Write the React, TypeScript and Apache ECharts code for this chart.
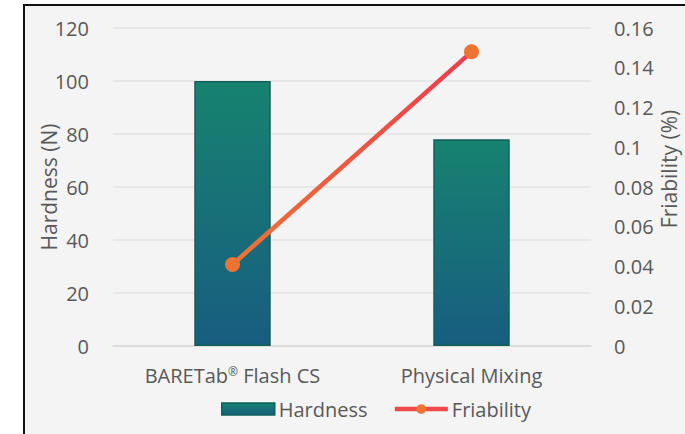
import React, { useEffect, useRef } from "react";
import * as echarts from "echarts";

const categories = ["BARETab® Flash CS", "Physical Mixing"];
const hardness = [100, 78];
const friability = [0.041, 0.148];
const leftTicks = { min: 0, max: 120, interval: 20 };
const rightTicks = { min: 0, max: 0.16, interval: 0.02 };

export default function App() {
  const ref = useRef<HTMLDivElement>(null);
  useEffect(() => {
    const chart = echarts.init(ref.current!, null, { renderer: "svg" });
    const font = "'Open Sans', sans-serif";
    const txt = "#595959";
    chart.setOption({
      animation: false,
      backgroundColor: "transparent",
      grid: { left: 113, right: 94, top: 28, bottom: 88, containLabel: false, outerBoundsMode: "none" },
      legend: {
        top: 399,
        left: 221,
        padding: 0,
        itemGap: 25,
        itemWidth: 53,
        itemHeight: 12,
        textStyle: { color: txt, fontSize: 20, fontFamily: font, padding: [0, 0, 0, -1] },
        data: [
          { name: "Hardness", icon: "rect", itemStyle: { borderColor: "#11605a", borderWidth: 1.5 } },
          {
            name: "Friability",
            lineStyle: { color: "#ef4a47", width: 4.5 },
            itemStyle: { color: "#ed7431" },
          },
        ],
      },
      xAxis: {
        type: "category",
        data: categories,
        axisLine: { lineStyle: { color: "#d9d9d9", width: 1.5 } },
        axisTick: { show: false },
        axisLabel: {
          color: txt,
          fontSize: 20,
          fontFamily: font,
          margin: 19,
          interval: 0,
          hideOverlap: false,
          formatter: (v: string) => v.replace("®", "{sup|®}"),
          rich: {
            sup: { fontSize: 12, fontFamily: font, color: txt, verticalAlign: "top", padding: [0, 0, 8, 0] },
          },
        },
      },
      yAxis: [
        {
          type: "value",
          ...leftTicks,
          name: "Hardness (N)",
          nameLocation: "middle",
          nameGap: 54,
          nameMoveOverlap: false,
          nameTextStyle: { color: txt, fontSize: 21, fontFamily: font },
          axisLabel: { color: txt, fontSize: 20, fontFamily: font, margin: 24 },
          axisLine: { show: false },
          axisTick: { show: false },
          splitLine: { lineStyle: { color: "#e3e3e3", width: 1.5 } },
        },
        {
          type: "value",
          ...rightTicks,
          name: "Friability (%)",
          nameLocation: "middle",
          nameGap: 67,
          nameMoveOverlap: false,
          nameTextStyle: { color: txt, fontSize: 21, fontFamily: font, padding: [0, 0, 0, 36] },
          axisLabel: { color: txt, fontSize: 20, fontFamily: font, margin: 23, formatter: (v: number) => String(+v.toFixed(2)) },
          axisLine: { show: false },
          axisTick: { show: false },
          splitLine: { show: false },
        },
      ],
      series: [
        {
          name: "Hardness",
          type: "bar",
          data: hardness,
          barWidth: "32%",
          itemStyle: {
            color: new echarts.graphic.LinearGradient(0, 0, 0, 1, [
              { offset: 0, color: "#178270" },
              { offset: 1, color: "#185d80" },
            ]),
            borderColor: "#11605a",
            borderWidth: 1.5,
          },
        },
        {
          name: "Friability",
          type: "line",
          yAxisIndex: 1,
          data: friability,
          symbol: "circle",
          symbolSize: 15,
          lineStyle: {
            width: 4.5,
            color: new echarts.graphic.LinearGradient(0, 0, 1, 0, [
              { offset: 0, color: "#ed7534" },
              { offset: 1, color: "#ee3a4c" },
            ]),
          },
          itemStyle: { color: "#ed7431" },
        },
      ],
    });
    return () => chart.dispose();
  }, []);
  return (
    <div style={{ position: "fixed", left: 0, top: 0, width: 685, height: 434, background: "#fff", overflow: "hidden" }}>
      <div
        style={{
          position: "absolute",
          left: 23,
          top: 4,
          width: 700,
          height: 500,
          border: "2px solid #111",
          background: "#f4f4f4",
        }}
      />
      <div ref={ref} style={{ position: "absolute", left: 0, top: 0, width: 685, height: 434 }} />
    </div>
  );
}
